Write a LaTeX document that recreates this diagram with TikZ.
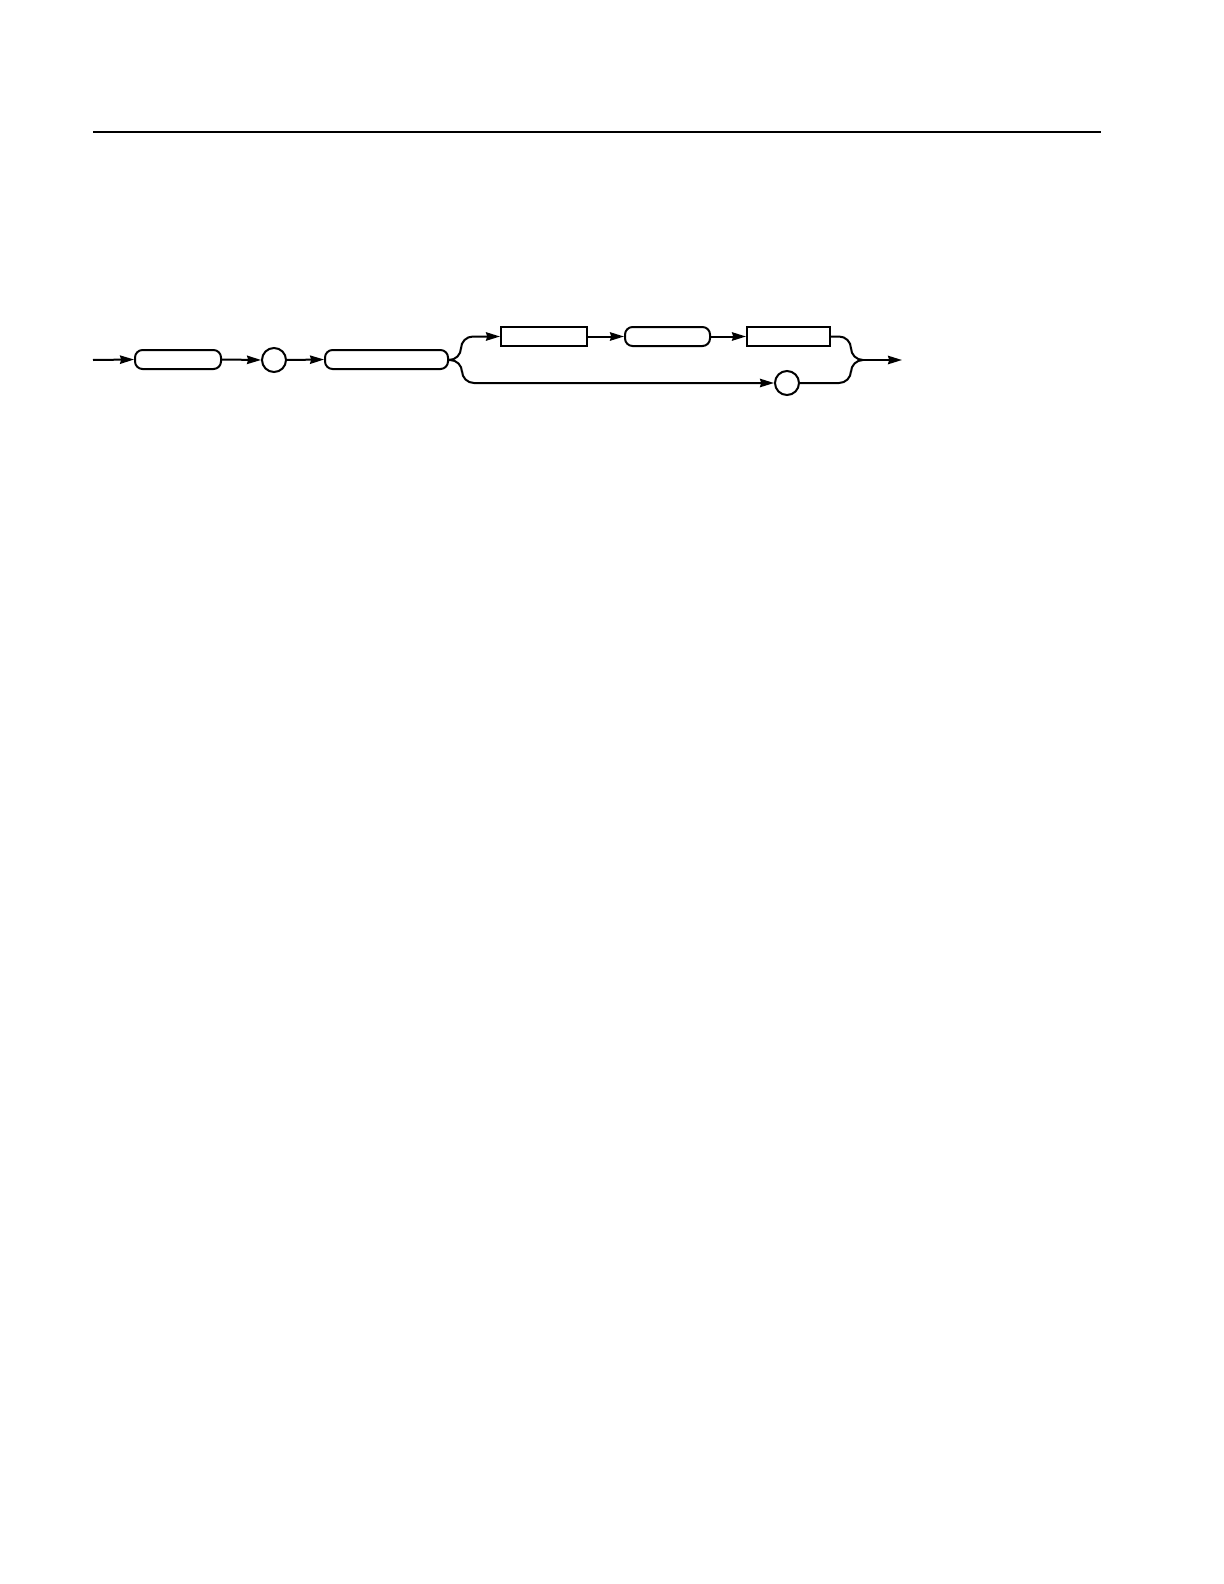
\documentclass[tikz,border=0pt]{standalone}
\usepackage{tikz}
\usetikzlibrary{arrows.meta, positioning, calc}

\begin{document}
\begin{tikzpicture}[x=0.5pt, y=-0.5pt, line width=1pt,
    flow/.style={-{Stealth[length=7pt, width=4.2pt, inset=0.6pt]}},
    roundbox/.style={draw, rounded corners=3.8pt, minimum height=9.5pt, inner sep=0pt},
    plainbox/.style={draw, minimum height=9.5pt, inner sep=0pt},
    optcircle/.style={draw, circle, minimum size=12pt, inner sep=0pt}]
        \useasboundingbox (0,0) rectangle (1224,1584);
        % rule across the top of the page
        \draw[line width=0.6pt] (93,132) -- (1101,132);
        % main line
        \coordinate (start) at (93,360);
        \node[roundbox, minimum width=43pt] (kw1) at (178,359.5) {};
        \node[optcircle] (c1) at (274,360) {};
        \node[roundbox, minimum width=61.5pt] (kw2) at (386.5,359.5) {};
        % upper branch
        \node[plainbox, minimum width=43pt] (r1) at (544,336.5) {};
        \node[roundbox, minimum width=42.5pt] (kw3) at (667.5,336.5) {};
        \node[plainbox, minimum width=41.5pt] (r2) at (788.5,336.5) {};
        % lower branch
        \node[optcircle] (c2) at (787,383) {};
        \coordinate (split) at (450,360);
        \coordinate (join) at (863,360);
        \coordinate (out) at (902,360);
        \draw[flow] (start) -- (kw1.west);
        \foreach \a/\b in {kw1/c1, c1/kw2, r1/kw3, kw3/r2} {
          \draw[flow] (\a.east) -- (\b.west);
        }
        \draw (kw2.east) -- (split);
        \draw[flow, rounded corners=6pt] (split) -| ($(r1.west)+(-39,0)$) -- (r1.west);
        \draw[flow, rounded corners=6pt] (split) -| ($(c2.west)+(-312,0)$) -- (c2.west);
        \draw[rounded corners=6pt] (r2.east) -| ($(join)+(-12,0)$) -- (join);
        \draw[rounded corners=6pt] (c2.east) -| ($(join)+(-12,0)$) -- (join);
        \draw[flow] (join) -- (out);
      \end{tikzpicture}
\end{document}
